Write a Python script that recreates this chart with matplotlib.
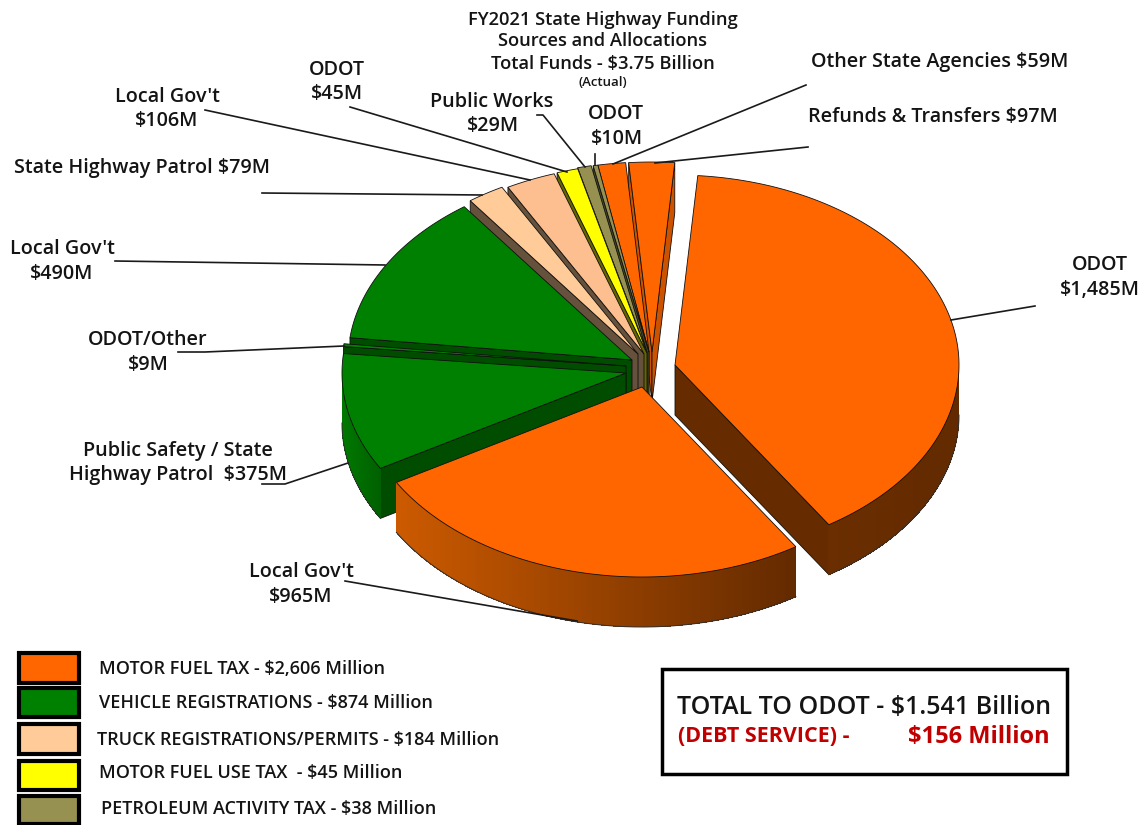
import numpy as np
import matplotlib
matplotlib.use("Agg")
import matplotlib.pyplot as plt
from matplotlib.colors import to_rgb
from matplotlib.patches import Rectangle

# slices, clockwise from the top of the pie
names = ["ODOT", "Local Gov't", "Public Safety / State\nHighway Patrol  $375M", "ODOT/Other", "Local Gov't",
         "State Highway Patrol", "Local Gov't", "ODOT", "Public Works", "ODOT",
         "Other State Agencies", "Refunds & Transfers"]
values = [1485, 965, 375, 9, 490, 79, 106, 45, 29, 10, 59, 97]
sources = ["fuel", "fuel", "reg", "reg", "reg", "truck", "truck2", "use", "pet", "pet", "fuel", "fuel"]

legend_labels = ["MOTOR FUEL TAX - $2,606 Million", "VEHICLE REGISTRATIONS - $874 Million",
                 "TRUCK REGISTRATIONS/PERMITS - $184 Million", "MOTOR FUEL USE TAX  - $45 Million",
                 "PETROLEUM ACTIVITY TAX - $38 Million"]
legend_colors = ["#FF6600", "#008000", "#FFCC99", "#FFFF00", "#969150"]

# pixel layout
tips = [(675, 365), (642, 387), (626, 373), (626, 366), (632, 360), (638, 354),
        (644, 354), (647, 353), (647, 352), (649, 352), (649, 352), (652, 352)]
draw_order = [11, 10, 9, 8, 7, 6, 5, 4, 3, 2, 0, 1]
start_angle = 4.6
rx, ry, depth = 284, 190, 50

face = {"fuel": "#FF6600", "reg": "#008000", "truck": "#FFCC99", "truck2": "#FDBF8F",
        "use": "#FFFF00", "pet": "#969150"}
wall = {"fuel": "#662C00", "reg": "#004D00", "truck": "#66513C", "truck2": "#66513C",
        "use": "#666600", "pet": "#4A4826"}
rim_left = {"fuel": "#CC5A00", "reg": "#007800"}
rim_right = {"fuel": "#632A00", "reg": "#006000"}

fig = plt.figure(figsize=(11.45, 8.25), dpi=100)
ax = fig.add_axes([0, 0, 1, 1])
ax.set_xlim(0, 1145)
ax.set_ylim(825, 0)
ax.axis("off")
plt.rcParams["font.family"] = ["Open Sans", "DejaVu Sans"]
TXT = "#141414"


def rim_xy(tip, th):
    return tip[0] + rx * np.sin(np.radians(th)), tip[1] - ry * np.cos(np.radians(th))


def draw_slice(i, a0, a1):
    tip = tips[i]
    src = sources[i]
    z = 2 + draw_order.index(i) * 0.1
    # radial walls facing the viewer
    for th, show in ((a0, np.sin(np.radians(a0)) < 0), (a1, np.sin(np.radians(a1)) > 0)):
        if show:
            x, y = rim_xy(tip, th)
            col = "#CC5200" if i == 11 else wall[src]
            ax.fill([tip[0], x, x, tip[0]], [tip[1], y, y + depth, tip[1] + depth],
                    fc=col, ec="#101010", lw=0.6, zorder=z)
    # outer rim, front half only
    lo, hi = max(a0, 90), min(a1, 270)
    if hi > lo and src in rim_left:
        ths = np.linspace(lo, hi, max(int((hi - lo) * 3), 2))
        xs, ys = rim_xy(tip, ths)
        xmin, xmax = xs.min(), xs.max()
        c0, c1 = np.array(to_rgb(rim_left[src])), np.array(to_rgb(rim_right[src]))
        if i == 0:
            c0 = np.array(to_rgb("#6A2E00"))
        for k in range(len(ths) - 1):
            t = (0.5 * (xs[k] + xs[k + 1]) - xmin) / max(xmax - xmin, 1)
            ax.fill([xs[k], xs[k + 1], xs[k + 1], xs[k]],
                    [ys[k], ys[k + 1], ys[k + 1] + depth, ys[k] + depth],
                    fc=c0 + (c1 - c0) * t, lw=0, antialiased=False, zorder=z)
        ax.plot(xs, ys + depth, color="#303030", lw=0.7, zorder=z)
    # top face
    ths = np.linspace(a0, a1, max(int((a1 - a0) * 2), 3))
    xs, ys = rim_xy(tip, ths)
    ax.fill(np.r_[tip[0], xs], np.r_[tip[1], ys], fc=face[src], ec="#101010", lw=0.6, zorder=z + 0.05)


bounds = start_angle + np.r_[0, np.cumsum(values)] / np.sum(values) * 360
for i in draw_order:
    draw_slice(i, bounds[i], bounds[i + 1])

# leader lines
leaders = [[(951, 320), (1035, 306)], [(577, 621), (345, 581)], [(348, 463), (285, 484), (262, 484)],
           [(344, 346), (205, 352), (178, 352)], [(385, 265), (115, 261)], [(482, 195), (262, 193)],
           [(530, 180), (205, 110)], [(567, 172), (350, 107)], [(585, 167), (543, 115), (537, 115)],
           [(595, 165), (595, 154)], [(613, 164), (806, 85)], [(655, 163), (808, 147)]]
for pts in leaders:
    ax.plot(*zip(*pts), color="#1A1A1A", lw=1.2, zorder=5)

# labels
labels = [("ODOT", 1100, 265), ("$1,485M", 1100, 290), ("Local Gov't", 301, 572), ("$965M", 301, 597),
          ("Public Safety / State", 178, 451), ("Highway Patrol  $375M", 178, 475),
          ("ODOT/Other", 148, 340), ("$9M", 148, 365), ("Local Gov't", 62, 249), ("$490M", 62, 274),
          ("State Highway Patrol $79M", 142, 168), ("Local Gov't", 167, 97), ("$106M", 167, 121),
          ("ODOT", 337, 70), ("$45M", 337, 94), ("Public Works", 492, 102), ("$29M", 493, 126),
          ("ODOT", 616, 114), ("$10M", 617, 139), ("Other State Agencies $59M", 940, 62),
          ("Refunds & Transfers $97M", 933, 117)]
for s, x, y in labels:
    ax.text(x, y, s, ha="center", va="center", fontsize=14.2, fontweight="semibold", color=TXT, zorder=6)

title_lines = ["FY2021 State Highway Funding", "Sources and Allocations", "Total Funds - $3.75 Billion"]
for s, y in zip(title_lines, [20, 41, 64]):
    ax.text(603, y, s, ha="center", va="center", fontsize=13.2, fontweight="semibold", color=TXT, zorder=6)
ax.text(603, 83, "(Actual)", ha="center", va="center", fontsize=9.5, fontweight="semibold", color=TXT, zorder=6)

# legend
swatch_y = [(653, 683), (688, 717), (724, 754), (761, 790), (796, 824)]
text_x = [99, 99, 97, 99, 101]
text_y = [669, 703, 740, 773, 809]
for (y0, y1), col, lab, tx, ty in zip(swatch_y, legend_colors, legend_labels, text_x, text_y):
    ax.add_patch(Rectangle((19, y0), 60, y1 - y0, fc=col, ec="black", lw=3, zorder=3))
    ax.text(tx, ty, lab, ha="left", va="center", fontsize=13, fontweight="semibold", color=TXT, zorder=6)

# summary box
ax.add_patch(Rectangle((662, 669), 405, 105, fc="white", ec="black", lw=2.5, zorder=3))
ax.text(677, 708, "TOTAL TO ODOT - $1.541 Billion", ha="left", va="center", fontsize=18,
        fontweight="semibold", color=TXT, zorder=6)
ax.text(678, 737, "(DEBT SERVICE) -", ha="left", va="center", fontsize=15.5,
        fontweight="bold", color="#C00000", zorder=6)
ax.text(1050, 737, "$156 Million", ha="right", va="center", fontsize=17,
        fontweight="bold", color="#C00000", zorder=6)

fig.savefig("out.png", dpi=100, facecolor="white")
